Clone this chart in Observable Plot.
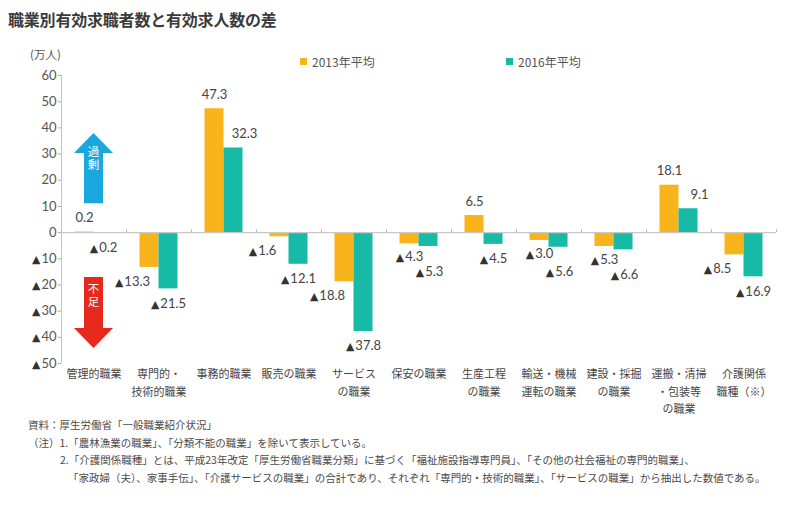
<!DOCTYPE html>
<html><head><meta charset="utf-8">
<script src="https://cdn.jsdelivr.net/npm/d3@7"></script>
<script src="https://cdn.jsdelivr.net/npm/@observablehq/plot@0.6"></script>
<style>
body{margin:0;background:#fff;width:796px;height:505px;position:relative;overflow:hidden;font-family:"Noto Sans CJK JP",sans-serif;}
#title{position:absolute;left:8px;top:7px;font-size:16px;font-weight:bold;color:#3a3a3a;letter-spacing:-0.2px;white-space:nowrap;}
#unit{position:absolute;left:30px;top:46px;font-size:11.5px;color:#555;}
#legend{position:absolute;top:53px;left:0;font-size:12px;color:#555;}
.lg{position:absolute;white-space:nowrap;display:flex;align-items:center;}
.sw{width:7px;height:7px;display:inline-block;margin-right:5px;}
#chart{position:absolute;left:0;top:45px;}
#notes{position:absolute;left:28px;top:416px;font-size:10.5px;color:#4a4a4a;line-height:17.7px;white-space:nowrap;}
</style></head>
<body>
<div id="title"></div>
<div id="unit"></div>
<div id="legend"></div>
<div id="chart"></div>
<div id="notes"></div>
<script>
const titleText = "職業別有効求職者数と有効求人数の差";
const unitText = "(万人)";
const categories = ["管理的職業","専門的・\n技術的職業","事務的職業","販売の職業","サービス\nの職業","保安の職業","生産工程\nの職業","輸送・機械\n運転の職業","建設・採掘\nの職業","運搬・清掃\n・包装等\nの職業","介護関係\n職種（※）"];
const seriesNames = ["2013年平均","2016年平均"];
const values2013 = [0.2,-13.3,47.3,-1.6,-18.8,-4.3,6.5,-3.0,-5.3,18.1,-8.5];
const values2016 = [-0.2,-21.5,32.3,-12.1,-37.8,-5.3,-4.5,-5.6,-6.6,9.1,-16.9];
const yTicks = [60,50,40,30,20,10,0,-10,-20,-30,-40,-50];
const arrowLabels = ["過剰","不足"];
const arrowFrom = [11,-17.2];
const arrowTo = [37.8,-44.3];
const arrowLabelAt = [27.9,-24.4];
const noteLines = [
  "資料：厚生労働省「一般職業紹介状況」",
  "（注）1.「農林漁業の職業」、「分類不能の職業」を除いて表示している。",
  "2.「介護関係職種」とは、平成23年改定「厚生労働省職業分類」に基づく「福祉施設指導専門員」、「その他の社会福祉の専門的職業」、",
  "「家政婦（夫）、家事手伝」、「介護サービスの職業」の合計であり、それぞれ「専門的・技術的職業」、「サービスの職業」から抽出した数値である。"
];

const colors = ["#f9b31b","#17b9a7"];
const arrowColors = ["#1aa7dd","#e52a1d"];
const numFont = "Lato, 'DejaVu Sans', sans-serif";
const jpFont = "'Noto Sans CJK JP', sans-serif";

document.getElementById("title").textContent = titleText;
document.getElementById("unit").textContent = unitText;
const legend = document.getElementById("legend");
const legendLeft = [300, 506];
seriesNames.forEach((s,i)=>{
  const d = document.createElement("div");
  d.className = "lg"; d.style.left = legendLeft[i] + "px";
  d.innerHTML = `<span class="sw" style="background:${colors[i]}"></span><span>${s}</span>`;
  legend.appendChild(d);
});
const notes = document.getElementById("notes");
const noteIndent = [0, 0, 32, 40];
noteLines.forEach((t,i)=>{
  const d = document.createElement("div");
  d.style.paddingLeft = noteIndent[i] + "px";
  d.textContent = t; notes.appendChild(d);
});

const data = categories.flatMap((c,i)=>[
  {category:c, series:seriesNames[0], value:values2013[i], other:values2016[i]},
  {category:c, series:seriesNames[1], value:values2016[i], other:values2013[i]}
]);
const d13 = data.filter(d=>d.series===seriesNames[0]);
const d16 = data.filter(d=>d.series===seriesNames[1]);
const fmt = v => v < 0 ? "▲" + (-v).toFixed(1) : v.toFixed(1);
const shifted13 = d => d.value < 0 && d.other - d.value < -5;
const arrows = arrowLabels.map((l,i)=>({label:l, from:arrowFrom[i], to:arrowTo[i], at:arrowLabelAt[i], color:arrowColors[i], category:categories[0]}));

function arrowMark(...args){
  const scales = args.find(a => a && typeof a.x === "function" && typeof a.y === "function");
  const ns = "http://www.w3.org/2000/svg";
  const g = document.createElementNS(ns,"g");
  if(!scales) return g;
  const step = scales.x(categories[1]) - scales.x(categories[0]);
  arrows.forEach(a=>{
    const cx = scales.x(a.category) + step/2;
    const y0 = scales.y(a.from), y1 = scales.y(a.to);
    const dir = y1 < y0 ? -1 : 1;
    const sw = 9.5, hw = 19.5, hl = 20;
    const yb = y1 - dir*hl;
    const pts = [[cx-sw,y0],[cx-sw,yb],[cx-hw,yb],[cx,y1],[cx+hw,yb],[cx+sw,yb],[cx+sw,y0]];
    const p = document.createElementNS(ns,"polygon");
    p.setAttribute("points", pts.map(q=>q.join(",")).join(" "));
    p.setAttribute("fill", a.color);
    g.appendChild(p);
    // vertical white label inside the shaft
    const t = document.createElementNS(ns,"text");
    t.setAttribute("x", cx);
    t.setAttribute("y", scales.y(a.at));
    t.setAttribute("writing-mode", "vertical-rl");
    t.setAttribute("text-anchor", "middle");
    t.setAttribute("dominant-baseline", "central");
    t.setAttribute("letter-spacing", "2");
    t.setAttribute("fill", "#fff");
    t.setAttribute("font-size", "11.5");
    t.setAttribute("font-family", jpFont);
    t.textContent = a.label;
    g.appendChild(t);
  });
  return g;
}

const chart = Plot.plot({
  width: 796, height: 373,
  marginLeft: 61, marginRight: 20, marginTop: 30, marginBottom: 55,
  x: {domain: categories, padding: 0, axis: null, label: null},
  y: {domain: [yTicks[yTicks.length-1], yTicks[0]], axis: null, label: null},
  color: {domain: seriesNames, range: colors},
  style: {fontFamily: jpFont, color: "#555", background: "transparent"},
  marks: [
    Plot.ruleX([categories[0]], {dx: -32.5, y1: yTicks[yTicks.length-1], y2: yTicks[0], stroke: "#c4c4c4"}),
    Plot.axisY({ticks: yTicks, tickSize: 3, tickPadding: 2, stroke: "#aaa", fill: "#555", fontSize: 13, fontFamily: numFont, label: null,
      tickFormat: v => v < 0 ? "▲" + (-v) : String(v)}),
    Plot.barY(d13, {x: "category", y: "value", fill: "series", insetLeft: 13.5, insetRight: 32.5}),
    Plot.barY(d16, {x: "category", y: "value", fill: "series", insetLeft: 32.5, insetRight: 13.5}),
    Plot.ruleY([0], {stroke: "#c8c8c8", strokeWidth: 1.2}),
    Plot.ruleX(categories, {x: d=>d, dx: -32.5, y1: 0, y2: 0, insetTop: -3, stroke: "#bbb"}),
    Plot.ruleX([categories[categories.length-1]], {x: d=>d, dx: 32.5, y1: 0, y2: 0, insetTop: -3, stroke: "#bbb"}),
    arrowMark,
    // labels 2013
    Plot.text(d13.filter(d=>d.value>=0), {x:"category", y:"value", text: d=>fmt(d.value), dx:-9.5, dy:-14, fill:"#444", fontSize:13, fontFamily:numFont}),
    Plot.text(d13.filter(d=>d.value<0 && !shifted13(d)), {x:"category", y:"value", text: d=>fmt(d.value), dx:-9.5, dy:13, fill:"#444", fontSize:13, fontFamily:numFont}),
    Plot.text(d13.filter(d=>shifted13(d)), {x:"category", y:"value", text: d=>fmt(d.value), dx:-26.5, dy:14, fill:"#444", fontSize:13, fontFamily:numFont}),
    // labels 2016
    Plot.text(d16.filter(d=>d.value>=0 && !(d.other>d.value)), {x:"category", y:"value", text: d=>fmt(d.value), dx:9.5, dy:-14, fill:"#444", fontSize:13, fontFamily:numFont}),
    Plot.text(d16.filter(d=>d.value>=0 && d.other>d.value), {x:"category", y:"value", text: d=>fmt(d.value), dx:20.5, dy:-14, fill:"#444", fontSize:13, fontFamily:numFont}),
    Plot.text(d16.filter(d=>d.value<0 && !(d.other<0 && d.value - d.other > -5)), {x:"category", y:"value", text: d=>fmt(d.value), dx:9.5, dy:14.5, fill:"#444", fontSize:13, fontFamily:numFont}),
    Plot.text(d16.filter(d=>d.value<0 && d.other<0 && d.value - d.other > -5), {x:"category", y:"value", text: d=>fmt(d.value), dx:10.5, dy:25, fill:"#444", fontSize:13, fontFamily:numFont}),
    Plot.axisX({anchor: "bottom", tickSize: 0, tickPadding: 2, fontSize: 11, lineHeight: 1.6, fill: "#444", fontFamily: jpFont, label: null})
  ]
});
// shrink the ▲ glyph so it matches the reference's small triangle
chart.querySelectorAll("text").forEach(t=>{
  if (t.children.length === 0 && t.textContent.startsWith("▲")) {
    const rest = t.textContent.slice(1);
    t.textContent = "";
    const tri = document.createElementNS("http://www.w3.org/2000/svg","tspan");
    tri.setAttribute("font-size","0.84em");
    tri.setAttribute("fill","#333");
    tri.textContent = "▲";
    t.appendChild(tri);
    const num = document.createElementNS("http://www.w3.org/2000/svg","tspan");
    num.setAttribute("dx","1");
    num.textContent = rest;
    t.appendChild(num);
  }
});
document.getElementById("chart").appendChild(chart);
</script>
</body></html>
